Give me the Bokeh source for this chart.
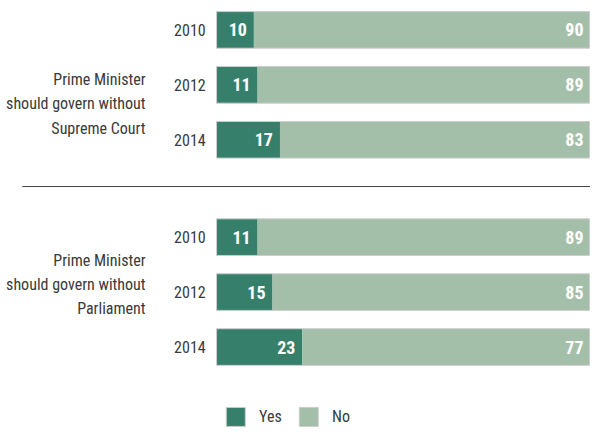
from bokeh.plotting import figure
from bokeh.models import Range1d, ColumnDataSource
from bokeh.core.properties import value
from bokeh.embed import file_html
from bokeh.resources import INLINE

# ---- data ----
years = ["2010", "2012", "2014"]
group_labels = [
    ["Prime Minister", "should govern without", "Supreme Court"],
    ["Prime Minister", "should govern without", "Parliament"],
]
yes_court = [10, 11, 17]
no_court = [90, 89, 83]
yes_parl = [11, 15, 23]
no_parl = [89, 85, 77]
legend_labels = ["Yes", "No"]

# ---- layout (reference pixels scaled into the figure) ----
W, H = 590, 428
SX, SY = W / 598.0, H / 444.0
BAR_L, BAR_R = 219 * SX, 597 * SX
SCALE = (BAR_R - BAR_L) / 100.0
YES_C = "#367f6b"
NO_C = "#a3bfa9"
TXT_C = "#3a3a3a"
FONT = value("Roboto Condensed")


def rx(px):
    return (px * SX - BAR_L) / SCALE


def ry(py):
    return py * SY


p = figure(width=W, height=H,
           x_range=Range1d(rx(0), rx(598)),
           y_range=Range1d(H, 0),
           output_backend="svg", toolbar_location=None,
           x_axis_location=None, y_axis_location=None,
           min_border=0)
p.xgrid.visible = False
p.ygrid.visible = False
p.outline_line_color = None
p.background_fill_color = "white"
p.border_fill_color = "white"

BAR_H = 38 * SY
group_first = [30.5, 245.5]
STEP = 57
label_baselines = [[82, 107, 133], [270, 295, 320]]

for gi, (yes, no) in enumerate([(yes_court, no_court), (yes_parl, no_parl)]):
    ys = [ry(group_first[gi] + i * STEP) for i in range(len(years))]
    total = [a + b for a, b in zip(yes, no)]
    src = ColumnDataSource(dict(y=ys, yes=yes, no=no, total=total, year=years,
                                yes_t=[str(v) for v in yes], no_t=[str(v) for v in no],
                                zero=[0] * len(years)))
    p.hbar(y="y", left="zero", right="yes", height=BAR_H, source=src,
           fill_color=YES_C, line_color=None)
    p.hbar(y="y", left="yes", right="total", height=BAR_H, source=src,
           fill_color=NO_C, line_color=None)
    p.hbar(y="y", left="zero", right="total", height=BAR_H, source=src,
           fill_color=None, line_color="#cccccc", line_width=1)
    p.text(x="yes", y="y", text="yes_t", source=src, text_align="right",
           text_baseline="middle", x_offset=-7, text_color="white",
           text_font=FONT, text_font_style="bold", text_font_size="18px")
    p.text(x="total", y="y", text="no_t", source=src, text_align="right",
           text_baseline="middle", x_offset=-6, text_color="white",
           text_font=FONT, text_font_style="bold", text_font_size="18px")
    p.text(x=[rx(208)] * len(years), y=ys, text=years, text_align="right",
           text_baseline="middle", text_color=TXT_C, text_font=FONT,
           text_font_size="16px")
    p.text(x=[rx(147)] * 3, y=[ry(b) for b in label_baselines[gi]],
           text=group_labels[gi], text_align="right", text_baseline="alphabetic",
           text_color=TXT_C, text_font=FONT, text_font_size="16px")

# separator
p.segment(x0=[rx(22)], x1=[rx(598)], y0=[ry(193)], y1=[ry(193)],
          line_color="#444444", line_width=1)

# legend
LEG_Y = ry(432)
p.scatter(x=[rx(238.5), rx(312.5)], y=[LEG_Y, LEG_Y], marker="square",
          size=19, fill_color=[YES_C, NO_C], line_color="#cccccc")
p.text(x=[rx(262), rx(336)], y=[LEG_Y, LEG_Y], text=legend_labels,
       text_align="left", text_baseline="middle", text_color=TXT_C,
       text_font=FONT, text_font_size="16px")

open("out.html", "w").write(file_html(p, INLINE))
